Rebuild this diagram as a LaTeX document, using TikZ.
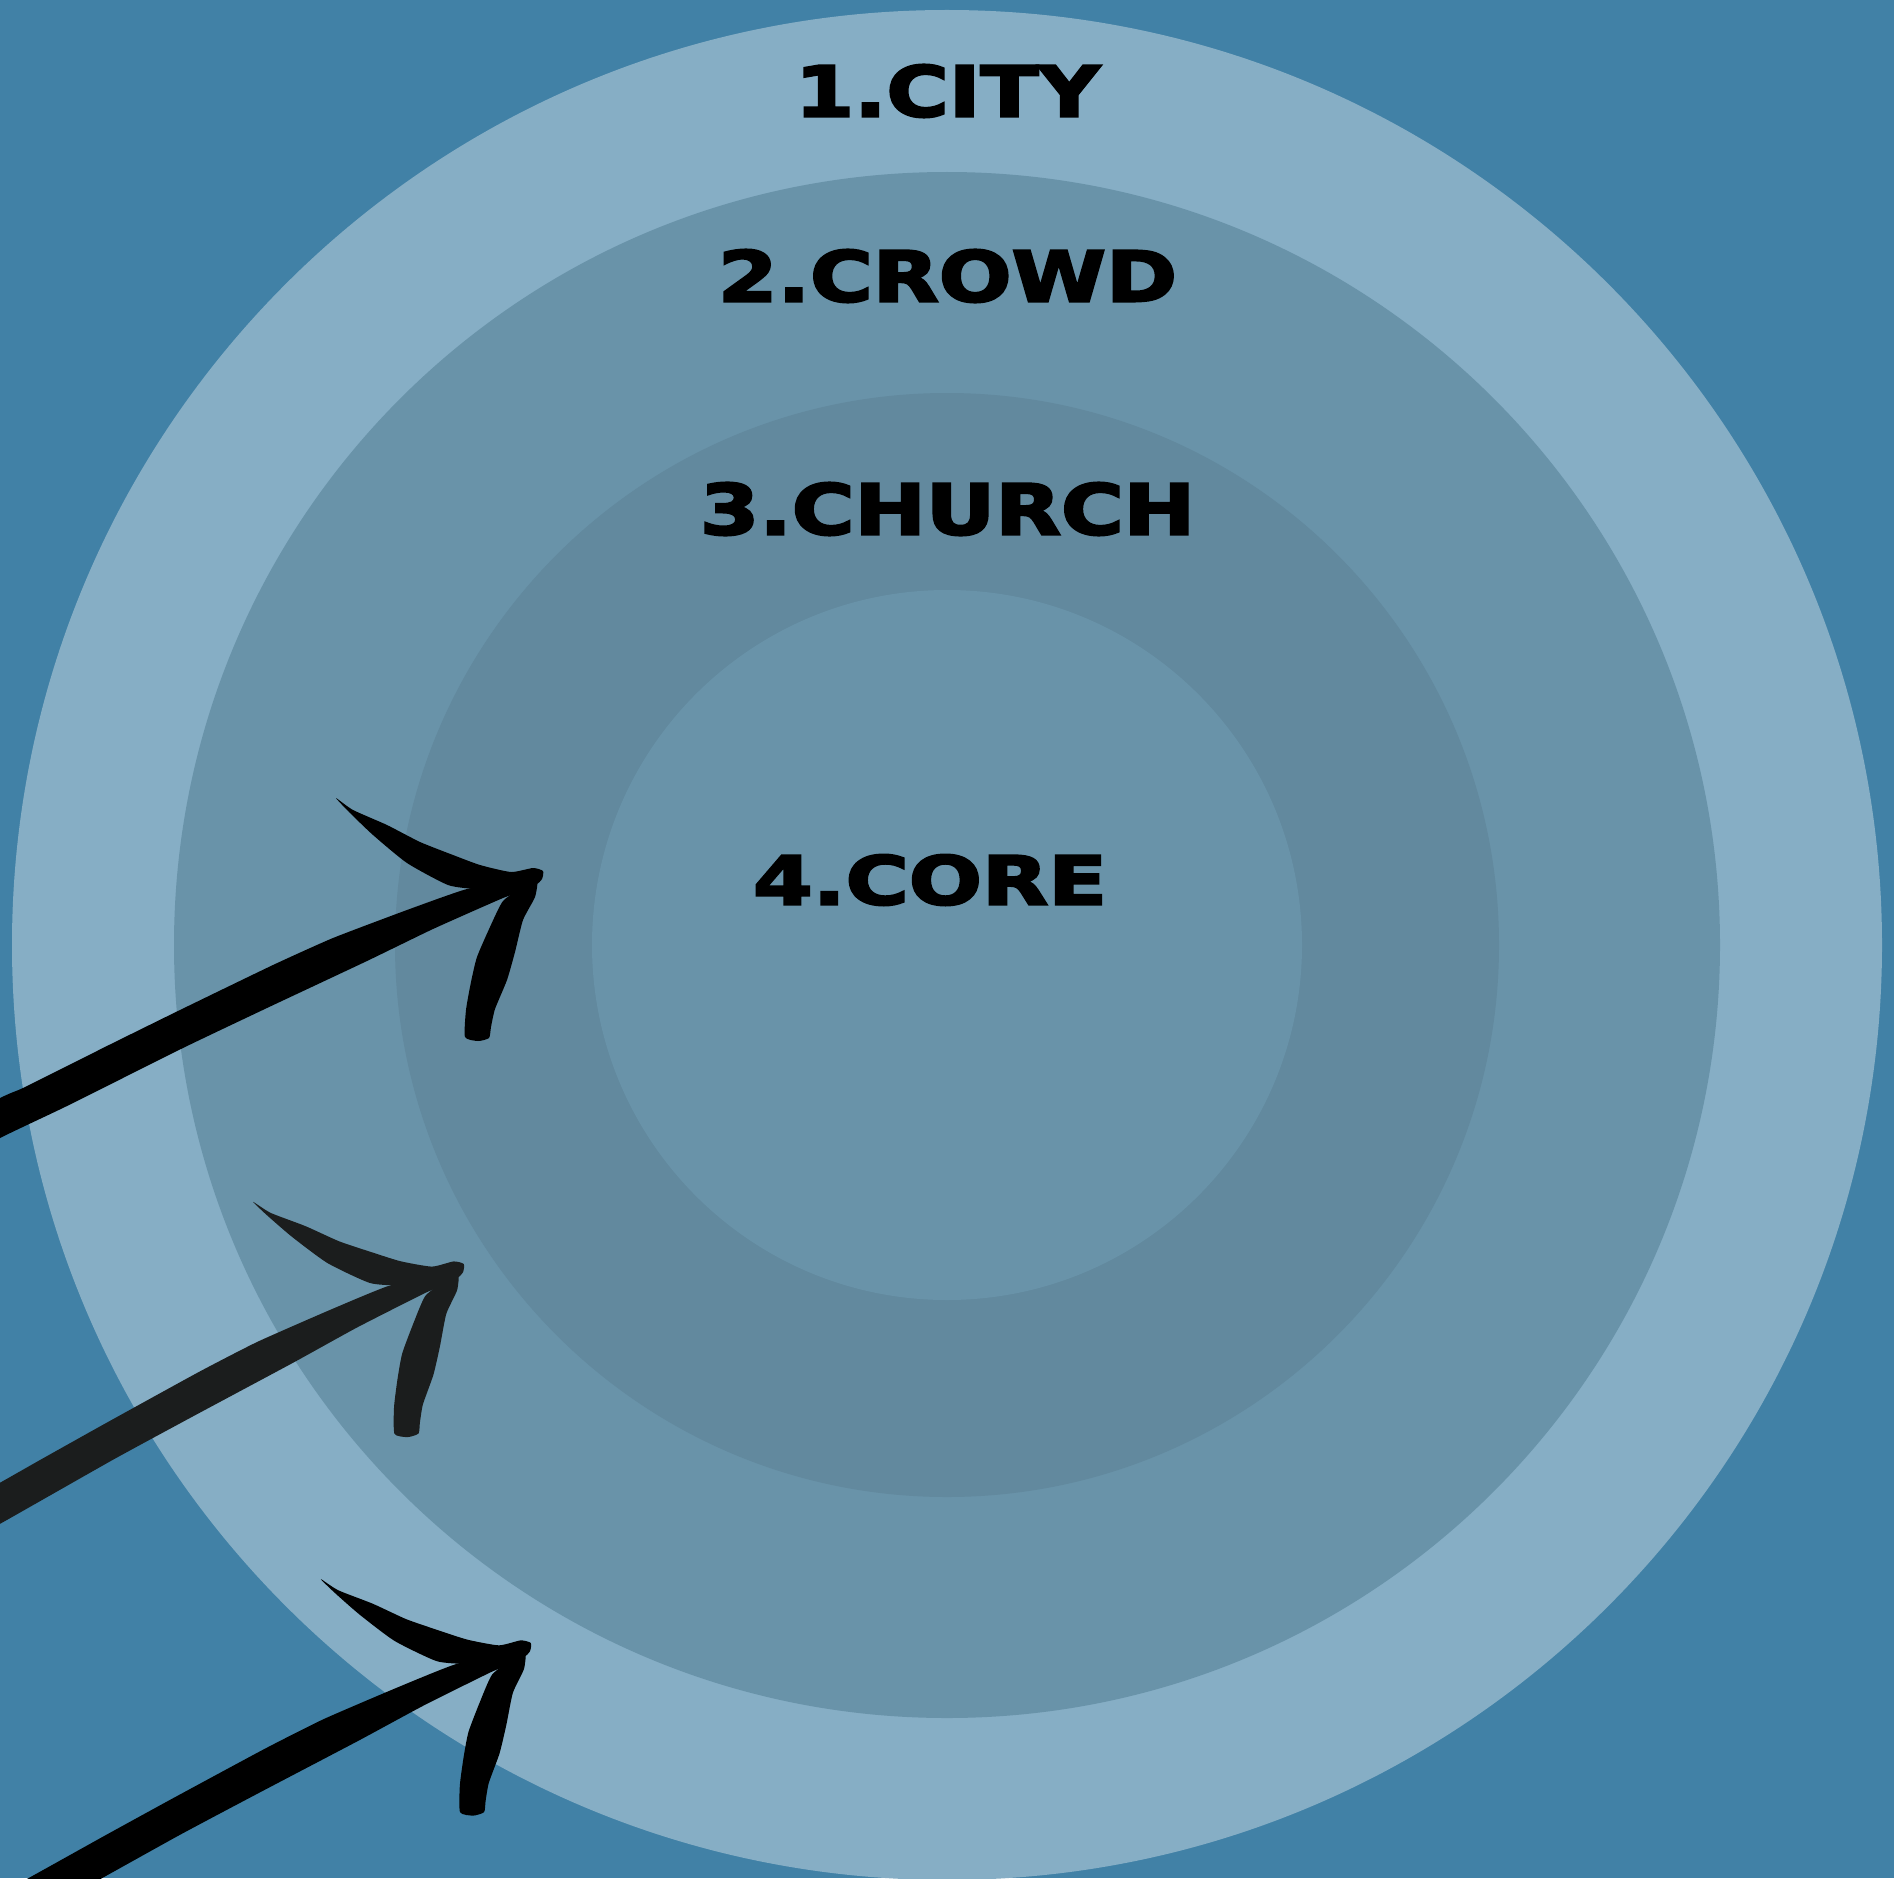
\documentclass[tikz,border=0pt]{standalone}
\usepackage{fontspec}
\setmainfont{DejaVu Sans}
\newfontfamily\heavyfont{DejaVu Sans Bold}[FakeBold=3]
\usepackage{graphicx}
\definecolor{bgblue}{HTML}{4181A6}
\definecolor{ringone}{HTML}{86AEC5}
\definecolor{ringtwo}{HTML}{6993A9}
\definecolor{ringthree}{HTML}{62899E}
\definecolor{ringfour}{HTML}{6993A9}
\definecolor{inkblack}{HTML}{000000}
\definecolor{inkgrey}{HTML}{1B1D1D}
\tikzset{
  label text/.style={inner sep=0pt, outer sep=0pt, text=black, font=\heavyfont},
  brusharrow/.pic={
    % upper barb
    \fill plot[smooth cycle, tension=0.35] coordinates {
      (-205,-79) (-188,-67) (-154,-52) (-121,-35) (-88,-22) (-61,-12) (-30,-5)
      (-8,-9) (2,-6) (1,2) (-6,8) (-30,11) (-64,12) (-93,8) (-134,-14) (-168,-42) (-192,-65)};
    % lower barb
    \fill plot[smooth cycle, tension=0.35] coordinates {
      (-4,4) (-6,20) (-18,43) (-26,75) (-34,103) (-46,132) (-50,150) (-52,161)
      (-63,164) (-76,160) (-75,133) (-70,105) (-64,80) (-51,50) (-38,24) (-18,10)};
    % shaft
    \fill plot[smooth cycle, tension=0.3] coordinates {
      (-14,2) (-74,12) (-134,33) (-208,61) (-268,88) (-361,133) (-428,166) (-454,179)
      (-518,211) (-541,221) (-680,290)
      (-680,332) (-541,261) (-474,229) (-358,171) (-274,131) (-174,84) (-108,52) (-38,21) (-10,11)};
  }
}
\begin{document}
\begin{tikzpicture}[x=1pt, y=-1pt]
  \useasboundingbox (0,0) rectangle (1894,1878);
  \clip (0,0) rectangle (1894,1878);
  \fill[bgblue] (0,0) rectangle (1894,1878);
  % concentric circles
  \coordinate (ctr) at (947,945);
  \fill[ringone] (ctr) circle[radius=935];
  \fill[ringtwo] (ctr) circle[radius=773];
  \fill[ringthree] (ctr) circle[radius=552];
  \fill[ringfour] (ctr) circle[radius=355];
  % labels
  \node[label text] (city) at (947.5,91) {\resizebox{305pt}{52pt}{1.CITY}};
  \node[label text] (crowd) at (947.5,276) {\resizebox{459pt}{52pt}{2.CROWD}};
  \node[label text] (church) at (947.5,509) {\resizebox{495pt}{52pt}{3.CHURCH}};
  \node[label text] (core) at (930,880) {\resizebox{354pt}{50pt}{4.CORE}};
  % brush arrows
  \pic[fill=inkblack] (arrowA) at (541,877) {brusharrow};
  \pic[fill=inkgrey, rotate=3] (arrowB) at (462,1270) {brusharrow};
  \pic[fill=inkblack, rotate=2.5] (arrowC) at (529,1649) {brusharrow};
\end{tikzpicture}
\end{document}
